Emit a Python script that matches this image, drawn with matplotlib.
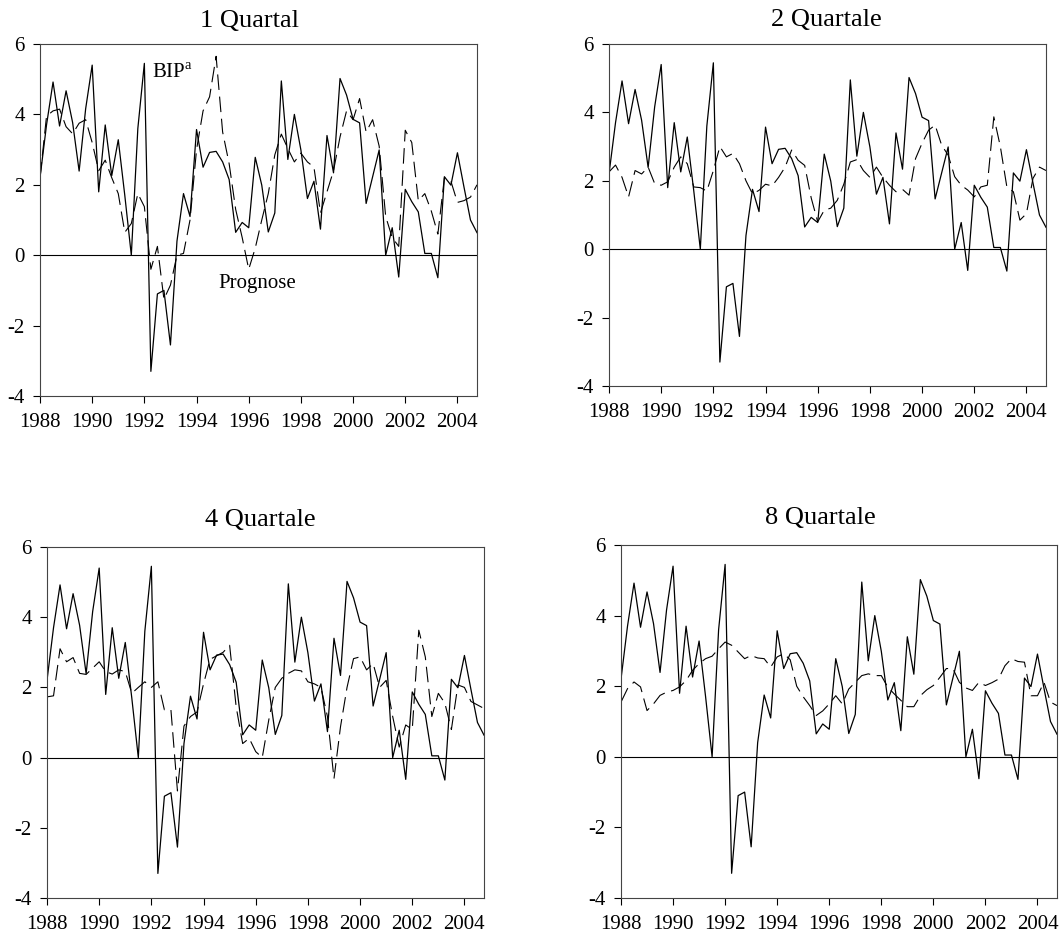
"""
BIP-Wachstum und Prognosen für verschiedene Horizonte, 1988-2004
"""

import numpy as np
import matplotlib
matplotlib.use('Agg')
import matplotlib.pyplot as plt

plt.rcParams['font.family'] = ['Liberation Serif', 'DejaVu Serif']
plt.rcParams['mathtext.fontset'] = 'custom'
plt.rcParams['mathtext.rm'] = 'Liberation Serif'
plt.rcParams['axes.unicode_minus'] = False

# Quartale 1988Q1 .. 2004Q4
quarters = 1988 + np.arange(68) / 4

# Tatsächliches BIP-Wachstum (in allen Tafeln gleich)
bip = [2.2, 3.7, 4.92, 3.67, 4.67, 3.77, 2.39, 4.16,
       5.40, 1.8, 3.7, 2.26, 3.28, 1.7, 0.0, 3.6,
       5.45, -3.3, -1.1, -1.0, -2.55, 0.4, 1.75, 1.1,
       3.57, 2.5, 2.92, 2.95, 2.65, 2.15, 0.65, 0.93,
       0.78, 2.78, 1.99, 0.66, 1.2, 4.95, 2.72, 4.0,
       2.99, 1.61, 2.1, 0.74, 3.4, 2.34, 5.02, 4.55,
       3.86, 3.76, 1.47, 2.23, 2.99, 0.0, 0.78, -0.62,
       1.87, 1.52, 1.23, 0.05, 0.05, -0.64, 2.23, 1.99,
       2.91, 1.94, 1.0, 0.64]

# Prognosen je Horizont
prog_1q = [2.2, 3.95, 4.1, 4.15, 3.65, 3.45, 3.75, 3.85,
           3.2, 2.4, 2.7, 2.2, 1.75, 0.65, 0.9, 1.75,
           1.38, -0.4, 0.25, -1.25, -0.85, 0.0, 0.05, 1.0,
           3.0, 4.1, 4.5, 5.65, 3.5, 2.6, 1.3, 0.5,
           -0.4, 0.2, 1.0, 1.75, 2.85, 3.44, 3.03, 2.65,
           2.9, 2.65, 2.5, 1.2, 1.8, 2.4, 3.36, 4.1,
           3.85, 4.45, 3.5, 3.85, 3.1, 1.1, 0.5, 0.25,
           3.55, 3.2, 1.55, 1.75, 1.25, 0.6, 2.2, 2.1,
           1.5, 1.55, 1.65, 2.0]

prog_2q = [2.26, 2.46, 2.1, 1.53, 2.3, 2.2, 2.4, 1.92,
           1.87, 1.97, 2.4, 2.7, 2.5, 1.82, 1.8, 1.7,
           2.3, 3.0, 2.7, 2.8, 2.5, 2.0, 1.62, 1.72,
           1.9, 1.85, 2.1, 2.4, 2.9, 2.6, 2.45, 1.5,
           0.8, 1.14, 1.2, 1.43, 1.9, 2.55, 2.62, 2.3,
           2.1, 2.4, 2.1, 1.87, 1.68, 1.75, 1.58, 2.65,
           3.1, 3.48, 3.63, 3.04, 2.75, 2.12, 1.87, 1.73,
           1.53, 1.82, 1.87, 3.87, 3.0, 1.82, 1.68, 0.85,
           1.04, 2.07, 2.4, 2.3]

prog_4q = [1.73, 1.76, 3.1, 2.73, 2.85, 2.4, 2.37, 2.55,
           2.73, 2.45, 2.38, 2.5, 2.45, 1.83, 2.0, 2.16,
           2.0, 2.16, 1.36, 1.36, -0.95, 0.9, 1.17, 1.3,
           2.1, 2.8, 2.9, 3.0, 3.2, 1.45, 0.4, 0.55,
           0.17, 0.0, 1.07, 2.0, 2.26, 2.4, 2.5, 2.47,
           2.16, 2.1, 2.0, 1.17, -0.6, 0.88, 2.0, 2.82,
           2.87, 2.5, 2.68, 2.0, 2.2, 1.17, 0.3, 0.93,
           0.8, 3.63, 2.87, 1.17, 1.83, 1.55, 0.8, 2.07,
           2.0, 1.6, 1.5, 1.4]

prog_8q = [1.55, 1.93, 2.12, 1.98, 1.31, 1.5, 1.74, 1.83,
           1.88, 1.98, 2.16, 2.45, 2.64, 2.78, 2.85, 3.06,
           3.25, 3.16, 2.97, 2.78, 2.87, 2.8, 2.78, 2.54,
           2.83, 2.92, 2.75, 2.0, 1.7, 1.45, 1.17, 1.3,
           1.5, 1.73, 1.5, 1.92, 2.11, 2.3, 2.35, 2.3,
           2.3, 1.97, 1.78, 1.6, 1.42, 1.42, 1.73, 1.9,
           2.02, 2.25, 2.5, 2.5, 2.11, 1.95, 1.88, 2.11,
           2.02, 2.1, 2.2, 2.58, 2.78, 2.7, 2.68, 1.73,
           1.73, 2.11, 1.55, 1.45]

titles = ['1 Quartal', '2 Quartale', '4 Quartale', '8 Quartale']
forecasts = [prog_1q, prog_2q, prog_4q, prog_8q]
year_ticks = list(range(1988, 2005, 2))
value_ticks = [-4, -2, 0, 2, 4, 6]

# Achsenpositionen in Pixeln: links, rechts, oben, unten
W, H = 1063, 933
boxes = [(40, 477, 44, 396),
         (609, 1046, 44, 386),
         (47, 484, 547, 898),
         (621, 1057, 545, 898)]
# Titelposition (Achsenanteil) und Abstand
title_x = [0.479, 0.497, 0.487, 0.458]
title_pad = [12, 13, 15, 15]


def main():
    fig = plt.figure(figsize=(W / 100, H / 100), dpi=100)

    for i, (title, prog) in enumerate(zip(titles, forecasts)):
        l, r, t, b = boxes[i]
        ax = fig.add_axes([l / W, 1 - b / H, (r - l) / W, (b - t) / H])
        ax.plot(quarters, bip, color='black', lw=0.9)
        ax.plot(quarters, prog, color='black', lw=0.8,
                linestyle=(0, (14, 6)))
        ax.axhline(0, color='black', lw=0.8)

        ax.set_xlim(1988, 2004.75)
        ax.set_ylim(-4, 6)
        ax.set_xticks(year_ticks)
        ax.set_yticks(value_ticks)
        ax.tick_params(direction='out', length=5, width=0.8,
                       labelsize=15, top=False, right=False)
        ax.tick_params(axis='x', pad=7)
        ax.tick_params(axis='y', pad=6)
        for sp in ax.spines.values():
            sp.set_color('#444444')
            sp.set_linewidth(0.8)
        ax.set_title(title, fontsize=19, x=title_x[i], pad=title_pad[i])

        if i == 0:
            ax.text(1992.29, 5.16, 'BIP$^{\\mathrm{a}}$', fontsize=15,
                    va='center', ha='left')
            ax.text(1994.82, -0.8, 'Prognose', fontsize=15,
                    va='center', ha='left')

    fig.savefig('out.png', dpi=100)


if __name__ == '__main__':
    main()
